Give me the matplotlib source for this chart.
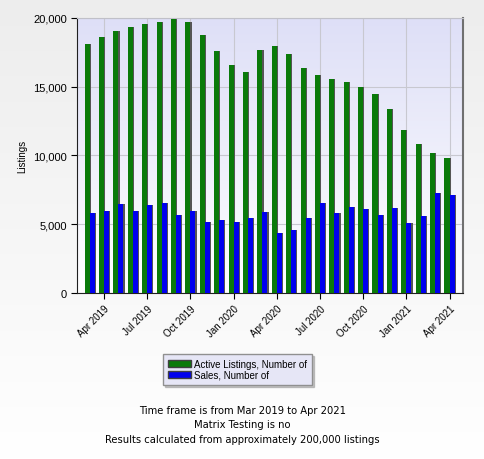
import numpy as np
import matplotlib
matplotlib.use("Agg")
import matplotlib.pyplot as plt
from matplotlib.patches import Patch
from matplotlib.ticker import FuncFormatter

plt.rcParams["font.family"] = ["Liberation Sans", "DejaVu Sans"]

# monthly values, Mar 2019 .. Apr 2021
months = ["Mar 2019", "Apr 2019", "May 2019", "Jun 2019", "Jul 2019", "Aug 2019",
          "Sep 2019", "Oct 2019", "Nov 2019", "Dec 2019", "Jan 2020", "Feb 2020",
          "Mar 2020", "Apr 2020", "May 2020", "Jun 2020", "Jul 2020", "Aug 2020",
          "Sep 2020", "Oct 2020", "Nov 2020", "Dec 2020", "Jan 2021", "Feb 2021",
          "Mar 2021", "Apr 2021"]
active = [18100, 18600, 19080, 19370, 19560, 19730, 19950, 19710, 18790, 17620,
          16580, 16050, 17670, 17960, 17400, 16340, 15830, 15560, 15350, 14980,
          14470, 13380, 11860, 10810, 10180, 9820]
sales = [5820, 5940, 6450, 5940, 6400, 6520, 5650, 5990, 5190, 5310,
         5140, 5480, 5890, 4360, 4610, 5480, 6570, 5820, 6230, 6110,
         5650, 6180, 5120, 5570, 7270, 7100]

x = np.arange(len(months))
w = 0.35

fig = plt.figure(figsize=(4.85, 4.6), dpi=100)

# light gray page gradient
bg = fig.add_axes([0, 0, 1, 1], zorder=-10)
grad = np.linspace(0, 1, 256).reshape(-1, 1)
bg.imshow(grad, extent=[0, 1, 0, 1], aspect="auto",
          cmap=matplotlib.colors.LinearSegmentedColormap.from_list("g", ["#ffffff", "#ededed"]),
          origin="lower")
bg.axis("off")

ax = fig.add_axes([0.159, 0.361, 0.796, 0.598])
ax.set_facecolor("none")
ax.imshow(grad, extent=[0, 1, 0, 1], transform=ax.transAxes, aspect="auto", zorder=0,
          cmap=matplotlib.colors.LinearSegmentedColormap.from_list("p", ["#ffffff", "#dedff7"]),
          origin="lower")

# bar shadows
ax.bar(x - w / 2 + 0.08, active, w, color="#555555", zorder=2)
ax.bar(x + w / 2 + 0.08, sales, w, color="#555555", zorder=2)
ax.bar(x - w / 2, active, w, color="#0a7a0a", zorder=3)
ax.bar(x + w / 2, sales, w, color="#0000ee", zorder=3)

ax.set_xlim(-0.87, 25.95)
ax.set_ylim(0, 20000)
ax.set_yticks([0, 5000, 10000, 15000, 20000])
ax.yaxis.set_major_formatter(FuncFormatter(lambda v, p: f"{int(v):,}"))
ticks = list(range(1, len(months), 3))
ax.set_xticks(ticks)
ax.set_xticklabels([months[i] for i in ticks], rotation=45,
                   ha="right", rotation_mode="anchor", fontsize=7)
ax.tick_params(axis="y", labelsize=8, length=4)
ax.tick_params(axis="x", length=4)
ax.grid(True, color="#c8c8d0", linewidth=0.8, zorder=1)
ax.set_axisbelow(True)
ax.set_ylabel("Listings", fontsize=7, labelpad=4)

ax.spines["top"].set_color("#c0c0c8")
ax.spines["right"].set_color("#707070")
ax.spines["right"].set_linewidth(1.5)
ax.spines["left"].set_color("#202020")
ax.spines["bottom"].set_color("#202020")

handles = [Patch(facecolor="#0a7a0a", edgecolor="#404040", label="Active Listings, Number of"),
           Patch(facecolor="#0000ee", edgecolor="#404040", label="Sales, Number of")]
leg = fig.legend(handles=handles, loc="center", bbox_to_anchor=(0.489, 0.195),
                 fontsize=7, frameon=True, fancybox=False,
                 shadow={"ox": 1.5, "oy": -1.5, "color": "#909090"},
                 handlelength=2.4, handleheight=0.8, borderpad=0.5,
                 labelspacing=0.1, handletextpad=0.3, borderaxespad=0)
leg.get_frame().set_facecolor("#e6e6f6")
leg.get_frame().set_edgecolor("#909090")
leg.get_frame().set_alpha(1)

foot = dict(ha="center", fontsize=7.2, family="DejaVu Sans")
fig.text(0.5, 0.100, "Time frame is from Mar 2019 to Apr 2021", **foot)
fig.text(0.5, 0.069, "Matrix Testing is no", **foot)
fig.text(0.5, 0.038, "Results calculated from approximately 200,000 listings", **foot)

fig.savefig("out.png", dpi=100)
